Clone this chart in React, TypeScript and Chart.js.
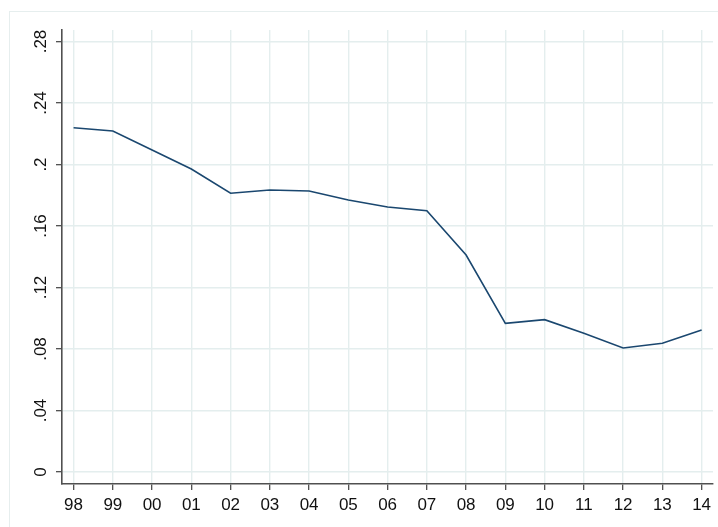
import { useEffect, useRef } from 'react';
import { Chart, registerables } from 'chart.js';

Chart.register(...registerables);

const years = ['98', '99', '00', '01', '02', '03', '04', '05', '06', '07', '08', '09', '10', '11', '12', '13', '14'];
const share = [0.2239, 0.2218, 0.2094, 0.1971, 0.1813, 0.1834, 0.1828, 0.1769, 0.1724, 0.1700, 0.1411, 0.0967, 0.0991, 0.0902, 0.0807, 0.0837, 0.0924];
const yTickValues = [0, 0.04, 0.08, 0.12, 0.16, 0.2, 0.24, 0.28];
const yTickLabels = ['0', '.04', '.08', '.12', '.16', '.2', '.24', '.28'];

export default function App() {
  const chartRef = useRef<HTMLCanvasElement | null>(null);

  useEffect(() => {
    if (!chartRef.current) return;
    const ctx = chartRef.current.getContext('2d');
    if (!ctx) return;

    const chartInstance = new Chart(ctx, {
      type: 'line',
      data: {
        datasets: [
          {
            data: share.map((v, i) => ({ x: i, y: v })),
            borderColor: '#1a476f',
            borderWidth: 1.6,
            pointRadius: 0,
            tension: 0,
            fill: false,
          },
        ],
      },
      options: {
        responsive: true,
        maintainAspectRatio: false,
        animation: false,
        layout: { padding: { left: 0, top: 30, right: 5, bottom: 0 } },
        plugins: {
          legend: { display: false },
          tooltip: { enabled: false },
        },
        scales: {
          x: {
            type: 'linear',
            min: -0.295,
            max: 16.29,
            afterBuildTicks: (scale: any) => {
              scale.ticks = years.map((_, i) => ({ value: i }));
            },
            afterFit: (scale: any) => {
              scale.height = 43;
            },
            ticks: {
              autoSkip: false,
              maxRotation: 0,
              padding: 5,
              color: '#111',
              font: { family: 'Liberation Sans, Arial, sans-serif', size: 17 },
              callback: (v: any) => years[v] ?? '',
            },
            grid: {
              color: '#e4eeee',
              lineWidth: 1.4,
              tickLength: 6,
              tickColor: '#404040',
              tickWidth: 1.2,
            },
            border: { display: true, color: '#505050', width: 1.6 },
          },
          y: {
            min: -0.0078,
            max: 0.2875,
            afterBuildTicks: (scale: any) => {
              scale.ticks = yTickValues.map((v) => ({ value: v }));
            },
            afterFit: (scale: any) => {
              scale.width = 62;
            },
            ticks: {
              autoSkip: false,
              minRotation: 90,
              maxRotation: 90,
              crossAlign: 'center',
              padding: 3,
              color: '#111',
              font: { family: 'Liberation Sans, Arial, sans-serif', size: 17 },
              callback: (v: any) => {
                const i = yTickValues.findIndex((t) => Math.abs(t - v) < 1e-9);
                return i >= 0 ? yTickLabels[i] : '';
              },
            },
            grid: {
              color: '#e4eeee',
              lineWidth: 1.4,
              tickLength: 6,
              tickColor: '#404040',
              tickWidth: 1.2,
            },
            border: { display: true, color: '#505050', width: 1.6 },
          },
        },
      },
    });

    return () => chartInstance.destroy();
  }, []);

  return (
    <div style={{ position: 'absolute', left: 0, top: 0, width: 718, height: 527, background: '#fff', overflow: 'hidden' }}>
      <div
        style={{
          position: 'absolute',
          left: 9,
          top: 11,
          width: 720,
          height: 530,
          borderTop: '1.5px solid #e6eeee',
          borderLeft: '1.5px solid #e6eeee',
        }}
      />
      <div style={{ position: 'absolute', left: 0, top: 0, width: 718, height: 527 }}>
        <canvas ref={chartRef}></canvas>
      </div>
    </div>
  );
}
